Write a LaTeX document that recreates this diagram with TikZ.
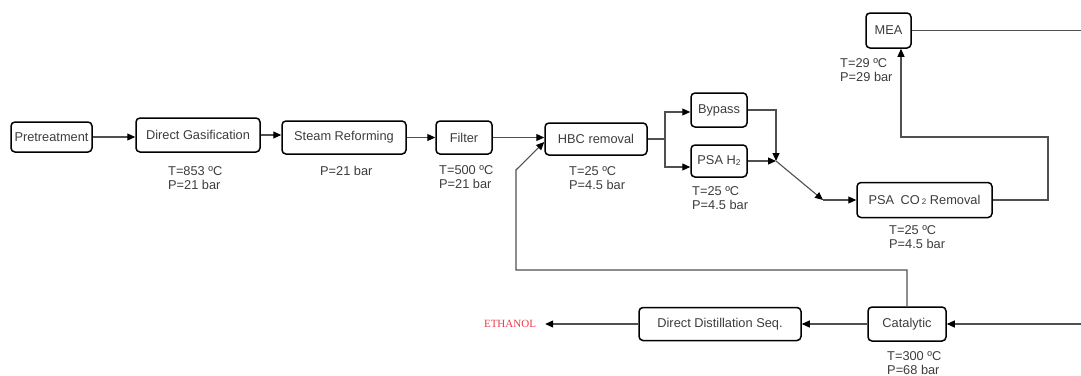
\documentclass[tikz,border=0pt]{standalone}
\usepackage{fontspec}
\setmainfont{Liberation Sans}
\newfontfamily\ethfont{Liberation Serif}
\usetikzlibrary{arrows.meta}
\definecolor{txt}{HTML}{3C3C3C}
\definecolor{lncol}{HTML}{505050}
\definecolor{ethred}{HTML}{EE3A4A}
\begin{document}
\begin{tikzpicture}[x=1pt,y=-1pt,
  box/.style={draw=black,line width=1.5pt,rounded corners=4pt,inner sep=0pt,text=txt,font=\fontsize{12.8}{14}\selectfont},
  lbl/.style={anchor=north west,inner sep=0pt,align=left,text=txt,font=\fontsize{12.8}{13.5}\selectfont},
  arr/.style={draw=lncol,line width=1.1pt,-{Triangle[length=8pt,width=7pt,color=black]}},
  wire/.style={draw=lncol,line width=1.1pt}]
\useasboundingbox (0,0) rectangle (1081,375);
% boxes
\node[box,minimum width=81,minimum height=30] (pre) at (51.5,137) {Pretreatment};
\node[box,minimum width=124,minimum height=34] (dg) at (198,135) {Direct Gasification};
\node[box,minimum width=124,minimum height=33] (sr) at (344,137.5) {Steam Reforming};
\node[box,minimum width=56,minimum height=33] (fil) at (464,137.5) {Filter\hspace{12pt}};
\node[box,minimum width=102,minimum height=32] (hbc) at (596,139) {HBC removal};
\node[box,minimum width=56,minimum height=34] (byp) at (719,110) {Bypass};
\node[box,minimum width=56,minimum height=32] (psah) at (719,161) {PSA H\raisebox{-1pt}{\fontsize{8.5}{9}\selectfont 2}};
\node[box,minimum width=135,minimum height=35] (psac) at (924.5,200) {PSA\enspace CO\,{\fontsize{8}{9}\selectfont 2} Removal};
\node[box,minimum width=45,minimum height=35] (mea) at (888.5,30.5) {MEA};
\node[box,minimum width=162,minimum height=33] (dds) at (720,324) {Direct Distillation Seq.\hspace{10pt}};
\node[box,minimum width=78,minimum height=34] (cat) at (907,324) {Catalytic};
\node[text=ethred,font=\ethfont\fontsize{11}{12}\selectfont,inner sep=0pt] (eth) at (510,324) {ETHANOL};
% labels
\node[lbl] (ldg) at (168,166.5) {T=853 ºC\\P=21 bar};
\node[lbl] (lsr) at (320,166.5) {P=21 bar};
\node[lbl] (lfil) at (439,165.5) {T=500 ºC\\P=21 bar};
\node[lbl] (lhbc) at (569,166.5) {T=25 ºC\\P=4.5 bar};
\node[lbl] (lpsah) at (692,186.5) {T=25 ºC\\P=4.5 bar};
\node[lbl] (lpsac) at (889,225.5) {T=25 ºC\\P=4.5 bar};
\node[lbl] (lmea) at (840,58.5) {T=29 ºC\\P=29 bar};
\node[lbl] (lcat) at (887,351.5) {T=300 ºC\\P=68 bar};
% helper coordinates
\coordinate (sp) at (665,139);
\coordinate (j) at (776,161);
\coordinate (k) at (823,200);
\coordinate (r1) at (1048,200);
\coordinate (r2) at (901,137);
\coordinate (o1) at (1081,30.5);
\coordinate (i1) at (1081,324);
\coordinate (b2) at (516,270);
\coordinate (b3) at (516,170);
% connectors
\draw[arr] (pre.east) -- (pre.east -| dg.west);
\draw[arr] (dg.east) -- (dg.east -| sr.west);
\draw[arr] (sr.east) -- (sr.east -| fil.west);
\draw[arr] (fil.east) -- (fil.east -| hbc.west);
\draw[wire] (hbc.east) -- (sp);
\draw[arr] (sp) |- ([yshift=-2pt]byp.west);
\draw[arr] (sp) |- ([yshift=-6pt]psah.west);
\draw[arr] (byp.east) -| (j);
\draw[arr] (psah.east) -- (j);
\draw[arr] (j) -- (k);
\draw[arr] (k) -- (psac.west);
\draw[arr] (psac.east) -- (r1) |- (r2) -- (r2 |- mea.south);
\draw[wire] (mea.east) -- (o1);
\draw[arr] (i1) -- (cat.east);
\draw[arr] (cat.west) -- (dds.east);
\draw[arr,shorten >=9pt] (dds.west) -- (eth.east);
\draw[arr] (cat.north) -- (cat.north |- b2) -- (b2) -- (b3) -- ([yshift=-3pt]hbc.west);
\end{tikzpicture}
\end{document}
